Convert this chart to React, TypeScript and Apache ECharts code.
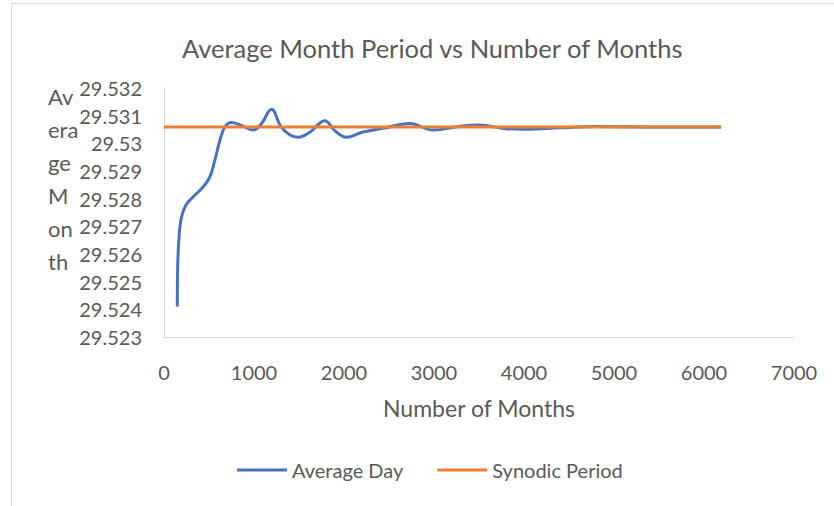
import React, { useEffect, useRef } from "react";
import * as echarts from "echarts";

const chartTitle = "Average Month Period vs Number of Months";
const xAxisTitle = "Number of Months";
const yAxisTitle = "Av\nera\nge\nM\non\nth";
const seriesNames = ["Average Day", "Synodic Period"];

const months = [
  148, 152, 170, 196, 244, 325, 436, 511, 566, 622, 677, 751, 850, 991, 1080,
  1195, 1300, 1400, 1491, 1620, 1787, 1900, 2028, 2200, 2434, 2730, 2989, 3300,
  3500, 3800, 4000, 4400, 4800, 5500, 6190,
];
const averageDay = [
  29.5241, 29.52554, 29.52675, 29.52735, 29.52777, 29.52807, 29.52843, 29.5288,
  29.5294, 29.53012, 29.5306, 29.53075, 29.53066, 29.53048, 29.5307, 29.53123,
  29.5306, 29.5303, 29.53022, 29.5304, 29.53082, 29.53045, 29.53022, 29.5304,
  29.53054, 29.53072, 29.53048, 29.53062, 29.53066, 29.53053, 29.53051, 29.53056,
  29.53061, 29.53059, 29.53059,
];
const synodicMonths = [0, 6190];
const synodicPeriod = [29.530589, 29.530589];

const xTicks = { min: 0, max: 7000, interval: 1000 };
const yTicks = { min: 29.523, max: 29.532, interval: 0.001 };

export default function App() {
  const ref = useRef<HTMLDivElement>(null);
  useEffect(() => {
    if (!ref.current) return;
    const chart = echarts.init(ref.current, null, { renderer: "svg" });
    const font = "Lato, 'Open Sans', sans-serif";
    const grey = "#595959";
    chart.setOption({
      animation: false,
      textStyle: { fontFamily: font },
      title: {
        text: chartTitle,
        left: 177,
        top: 30,
        textStyle: { fontFamily: font, fontSize: 25.5, fontWeight: "normal", color: grey },
      },
      legend: {
        bottom: 21,
        left: 232,
        icon: "rect",
        itemWidth: 50,
        itemHeight: 3,
        itemGap: 34,
        textStyle: { fontFamily: font, fontSize: 20, color: grey },
        data: seriesNames,
      },
      grid: { left: 164, right: 40, top: 88, bottom: 169 },
      xAxis: {
        type: "value",
        min: xTicks.min,
        max: xTicks.max,
        interval: xTicks.interval,
        name: xAxisTitle,
        nameLocation: "middle",
        nameGap: 59,
        nameTextStyle: { fontFamily: font, fontSize: 23, color: grey, verticalAlign: "top" },
        axisLine: { lineStyle: { color: "#d9d9d9", width: 1 } },
        axisTick: { show: false },
        splitLine: { show: false },
        axisLabel: {
          fontFamily: font,
          fontSize: 20,
          color: grey,
          margin: 25,
          formatter: (v: number) => String(v),
        },
      },
      yAxis: {
        type: "value",
        min: yTicks.min,
        max: yTicks.max,
        interval: yTicks.interval,
        axisLine: { show: true, lineStyle: { color: "#d9d9d9", width: 1 } },
        axisTick: { show: false },
        splitLine: { show: false },
        axisLabel: {
          fontFamily: font,
          fontSize: 20,
          color: grey,
          margin: 22,
          padding: [16, 0, 0, 0],
          formatter: (v: number) => String(parseFloat(v.toFixed(3))),
        },
      },
      graphic: [
        {
          type: "rect",
          silent: true,
          shape: { x: 11.5, y: 3.5, width: 1000, height: 1000 },
          style: { fill: "none", stroke: "#d9d9d9", lineWidth: 1 },
        },
        {
          type: "text",
          left: 48,
          top: 80,
          style: {
            text: yAxisTitle,
            font: `22px ${font}`,
            fill: grey,
            lineHeight: 33,
          },
        },
      ],
      series: [
        {
          name: seriesNames[0],
          type: "line",
          data: months.map((m, i) => [m, averageDay[i]]),
          showSymbol: false,
          symbol: "none",
          smooth: 0.4,
          lineStyle: { color: "#4472C4", width: 3 },
          itemStyle: { color: "#4472C4" },
          z: 2,
        },
        {
          name: seriesNames[1],
          type: "line",
          data: synodicMonths.map((m, i) => [m, synodicPeriod[i]]),
          showSymbol: false,
          symbol: "none",
          lineStyle: { color: "#ED7D31", width: 3 },
          itemStyle: { color: "#ED7D31" },
          z: 3,
        },
      ],
    });
    return () => chart.dispose();
  }, []);
  return (
    <div
      ref={ref}
      style={{ position: "absolute", left: 0, top: 0, width: 834, height: 506, background: "#fff" }}
    />
  );
}
